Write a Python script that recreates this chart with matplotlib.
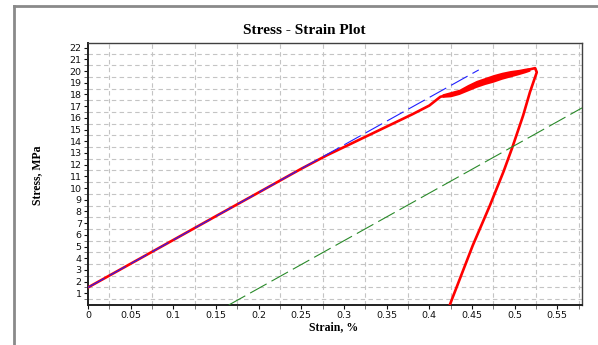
import matplotlib
matplotlib.use("Agg")
import matplotlib.pyplot as plt
from matplotlib.lines import Line2D

# ---------------------------------------------------------------------------
# Data
# ---------------------------------------------------------------------------
# measured curve (loading branch, peak, unloading branch)
strain_meas = [0.000, 0.050, 0.100, 0.150, 0.200, 0.250, 0.280, 0.320, 0.350,
               0.380, 0.400, 0.413, 0.424, 0.440, 0.451, 0.471, 0.491, 0.506,
               0.518, 0.524, 0.526, 0.518, 0.510, 0.497, 0.487, 0.471, 0.451,
               0.424]
stress_meas = [1.50, 3.53, 5.56, 7.60, 9.62, 11.65, 12.80, 14.20, 15.25,
               16.30, 17.05, 17.80, 18.00, 18.30, 18.80, 19.30, 19.65, 19.90,
               20.15, 20.25, 19.90, 18.20, 16.20, 13.40, 11.40, 8.50, 5.10,
               0.00]

# noisy band around the peak (lower / upper envelope)
strain_band = [0.415, 0.425, 0.435, 0.445, 0.455, 0.465, 0.475, 0.485, 0.495,
               0.505, 0.512, 0.518]
stress_band_lo = [17.75, 17.80, 18.00, 18.30, 18.60, 18.85, 19.05, 19.30,
                  19.50, 19.70, 19.85, 20.00]
stress_band_hi = [18.05, 18.25, 18.45, 18.85, 19.20, 19.45, 19.70, 19.90,
                  20.05, 20.15, 20.25, 20.30]

# elastic fit line (blue) and offset line (green)
strain_fit = [0.000, 0.458]
stress_fit = [1.50, 20.10]
strain_offset = [0.165, 0.579]
stress_offset = [0.00, 16.85]

x_ticks = [0, 0.05, 0.1, 0.15, 0.2, 0.25, 0.3, 0.35, 0.4, 0.45, 0.5, 0.55]
x_grid = [0.025, 0.075, 0.125, 0.175, 0.225, 0.275, 0.325, 0.375, 0.425,
          0.475, 0.525, 0.575]
y_ticks = list(range(1, 23))
y_grid = [v + 0.5 for v in range(0, 22)]

# ---------------------------------------------------------------------------
# Figure
# ---------------------------------------------------------------------------
fig = plt.figure(figsize=(5.98, 3.45), dpi=100)
fig.patch.set_facecolor("white")

# outer gray frame (left and top edges visible)
fig.add_artist(Line2D([14 / 598, 14 / 598], [0, 1 - 6 / 345],
                      transform=fig.transFigure, color="#8a8a8a", lw=2))
fig.add_artist(Line2D([14 / 598, 1], [1 - 6 / 345, 1 - 6 / 345],
                      transform=fig.transFigure, color="#8a8a8a", lw=2))

ax = fig.add_axes([88 / 598, 40 / 345, 494 / 598, 262 / 345])

ax.fill_between(strain_band, stress_band_lo, stress_band_hi,
                color="#ff0000", lw=0, zorder=3)
ax.plot(strain_meas, stress_meas, color="#ff0000", lw=1.9,
        solid_joinstyle="round", zorder=3)
# fit lines drawn over the measured curve, as in the original
ax.plot(strain_fit, stress_fit, color="#2020ff", lw=0.8,
        dashes=(17, 5), zorder=5)
ax.plot(strain_offset, stress_offset, color="#2a8a2a", lw=0.8,
        dashes=(17, 5), zorder=5)

ax.set_xlim(0, 0.579)
ax.set_ylim(0, 22.4)

ax.set_xticks(x_ticks)
ax.set_xticklabels([("%g" % v) for v in x_ticks])
ax.set_yticks(y_ticks)
ax.set_yticklabels([str(v) for v in y_ticks])
ax.set_xticks(x_grid, minor=True)
ax.set_yticks(y_grid, minor=True)

ax.grid(True, which="minor", color="#c4c4c4", lw=0.8, linestyle=(0, (4, 3)))
ax.grid(False, which="major")
ax.set_axisbelow(True)

ax.tick_params(axis="both", which="major", labelsize=6.8, length=3,
               width=0.8, pad=1.5, colors="#101010")
ax.tick_params(axis="both", which="minor", length=3, width=0.6,
               colors="#606060")

for side in ("left", "bottom"):
    ax.spines[side].set_linewidth(1.4)
    ax.spines[side].set_color("#202020")
for side in ("top", "right"):
    ax.spines[side].set_linewidth(1.0)
    ax.spines[side].set_color("#404040")

serif = "Liberation Serif"
fig.text(304 / 598, 1 - 30 / 345, "Stress - Strain Plot", ha="center",
         va="center", fontsize=11, fontweight="bold", family=serif)
fig.text(37 / 598, 1 - 175 / 345, "Stress, MPa", ha="center", va="center",
         rotation=90, fontsize=8.5, fontweight="bold", family=serif)
fig.text(334 / 598, 1 - 327 / 345, "Strain, %", ha="center", va="center",
         fontsize=8.5, fontweight="bold", family=serif)

fig.savefig("out.png", dpi=100)
